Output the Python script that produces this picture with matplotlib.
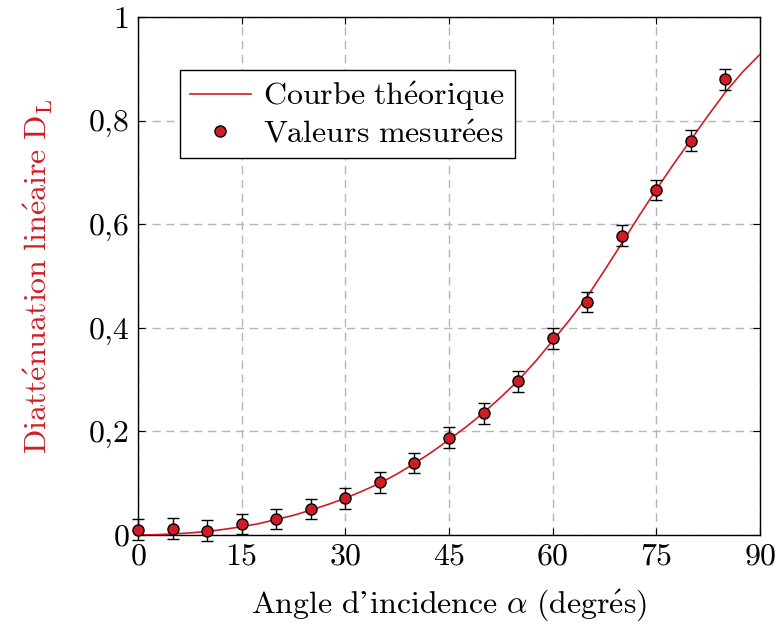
import numpy as np
import matplotlib
matplotlib.use("Agg")
import matplotlib.pyplot as plt
from matplotlib.ticker import FuncFormatter
from matplotlib.lines import Line2D

plt.rcParams['font.family'] = ['cmr10', 'DejaVu Serif']
plt.rcParams['mathtext.fontset'] = 'cm'
plt.rcParams['axes.formatter.use_mathtext'] = True

# ---- donnees ----
angles_mes = [0, 5, 10, 15, 20, 25, 30, 35, 40, 45, 50, 55, 60, 65, 70, 75, 80, 85]
dl_mes = [0.010, 0.012, 0.008, 0.021, 0.031, 0.050, 0.071, 0.102, 0.139, 0.188,
          0.235, 0.297, 0.380, 0.450, 0.578, 0.666, 0.761, 0.880]
err_mes = [0.02] * len(angles_mes)

# courbe theorique (tous les 2,5 degres)
angles_th = [0, 2.5, 5, 7.5, 10, 12.5, 15, 17.5, 20, 22.5, 25, 27.5, 30, 32.5, 35, 37.5,
             40, 42.5, 45, 47.5, 50, 52.5, 55, 57.5, 60, 62.5, 65, 67.5, 70, 72.5, 75,
             77.5, 80, 82.5, 85, 87.5, 90]
dl_th = [0.0, 0.0005, 0.002, 0.004, 0.007, 0.011, 0.016, 0.022, 0.030, 0.038, 0.048,
         0.059, 0.071, 0.085, 0.100, 0.118, 0.138, 0.160, 0.184, 0.209, 0.236, 0.266,
         0.298, 0.335, 0.375, 0.416, 0.460, 0.511, 0.563, 0.616, 0.667, 0.716, 0.763,
         0.810, 0.855, 0.894, 0.928]

rouge = '#d01c24'
fs = 23

fig = plt.figure(figsize=(7.78, 6.28), dpi=100)
ax = fig.add_axes([138 / 778, 1 - 535 / 628, 622 / 778, 518 / 628])

ax.plot(angles_th, dl_th, color=rouge, lw=1.2, zorder=3)
ax.errorbar(angles_mes, dl_mes, yerr=err_mes, fmt='o', ms=8, mfc=rouge, mec='black',
            mew=1.0, ecolor='black', elinewidth=1.0, capsize=4, capthick=1.0,
            zorder=4, clip_on=False)

ax.set_xlim(0, 90)
ax.set_ylim(0, 1)
ax.set_xticks([0, 15, 30, 45, 60, 75, 90])
ax.set_yticks([0, 0.2, 0.4, 0.6, 0.8, 1])
ax.yaxis.set_major_formatter(FuncFormatter(lambda v, p: ('%g' % round(v, 2)).replace('.', ',')))

ax.grid(True, color='#b5b5b5', linestyle=(0, (6, 4)), lw=1.0)
ax.tick_params(direction='in', top=True, right=True, length=5, labelsize=fs, width=0.8, pad=6)
for s in ax.spines.values():
    s.set_linewidth(1.0)

ax.set_xlabel(r"$\mathrm{Angle\ d’incidence}\ \alpha\ \mathrm{(degr\acute{e}s)}$", fontsize=fs, labelpad=12)
ax.set_ylabel(r"$\mathrm{Diatt\acute{e}nuation\ lin\acute{e}aire\ D_L}$", fontsize=fs, color=rouge, labelpad=24)

handles = [Line2D([], [], color=rouge, lw=1.2),
           Line2D([], [], ls='none', marker='o', ms=8, mfc=rouge, mec='black', mew=1.0)]
labels = [r"$\mathrm{Courbe\ th\acute{e}orique}$", r"$\mathrm{Valeurs\ mesur\acute{e}es}$"]
leg = ax.legend(handles, labels, loc='upper left', bbox_to_anchor=(0.068, 0.898), borderaxespad=0,
                fontsize=fs, fancybox=False, framealpha=1, edgecolor='black',
                handlelength=1.9, handletextpad=0.4, borderpad=0.3, labelspacing=0.2)
leg.get_frame().set_linewidth(1.0)

fig.savefig('out.png', dpi=100)
